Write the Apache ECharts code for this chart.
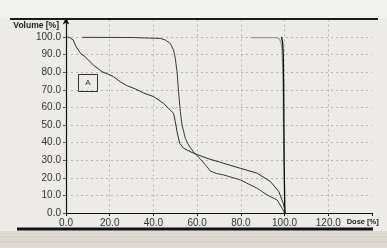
<!DOCTYPE html>
<html><head><meta charset="utf-8">
<script src="https://cdn.jsdelivr.net/npm/echarts@6/dist/echarts.min.js"></script>
<style>html,body{margin:0;padding:0;background:#ecebe8;}#c{width:387px;height:248px;}</style>
</head><body><div id="c"></div>
<script>
// Tick settings
const xTicks = [0, 20, 40, 60, 80, 100, 120];
const yTicks = [0, 10, 20, 30, 40, 50, 60, 70, 80, 90, 100];
// Curve A (gradual decline) [dose %, volume %]
const curveA = [[0.5,100],[1.5,99.8],[3.3,98.3],[4.6,94.5],[6.7,90.7],[8.7,88.8],[12.5,84.1],[16.4,80.3],[19.4,78.8],[21.7,77.5],[24.8,74.6],[27.8,72.4],[31.7,70.5],[35.5,68.2],[40.1,66.1],[44.6,62.3],[47.7,58.5],[49.2,56.6],[50,51.9],[50.8,46.2],[52,39.6],[53.8,36.8],[56.9,34.8],[60,33.2],[64.5,31.1],[72.2,28.2],[79.8,25.4],[87.5,22.6],[93.6,17.8],[97.4,12.1],[99.4,5.5],[100.5,0]];
// Curve B (steep shoulder)
const curveB = [[7.5,99.8],[30,99.7],[43.1,99.2],[45.4,98.3],[47.7,96.4],[49.2,92.6],[50,87.9],[50.8,80.3],[51.5,68.9],[52.3,57.6],[53.1,50],[54.6,42.4],[56.1,38.6],[58.4,34.6],[61.5,30.6],[64,27],[66.1,23.8],[69,22.4],[72.2,21.6],[79.8,18.8],[87.5,14],[92.1,10.2],[96.6,7.4],[98.9,2.7],[100,0]];
// Curve C (gray, near 100% dose)
const curveC = [[84.5,99.7],[96,99.7],[97.5,99],[98.3,97],[98.8,93],[99.2,80],[99.6,40],[100.2,0]];
// Curve D (black, near 100% dose)
const curveD = [[98.6,100],[99.1,97],[99.4,90],[99.6,70],[99.8,30],[100.1,0]];

const chart = echarts.init(document.getElementById('c'));
const font = '"Liberation Sans", Arial, sans-serif';
const lineSeries = (data, color, width) => ({
  type: 'line', data, showSymbol: false, symbol: 'none', smooth: false,
  lineStyle: { color, width }, animation: false, z: 3
});
chart.setOption({
  backgroundColor: '#ecebe8',
  animation: false,
  grid: { left: 66, right: 15, top: 19.4, bottom: 35, containLabel: false },
  xAxis: {
    type: 'value', min: 0, max: 140, interval: 20,
    name: 'Dose [%]', nameLocation: 'end', nameGap: 0,
    nameTextStyle: { fontFamily: font, fontSize: 7.5, fontWeight: 'bold', color: '#222', align: 'right', verticalAlign: 'top', padding: [5, 0, 0, 0] },
    axisLine: { show: true, lineStyle: { color: '#111', width: 1.2 } },
    axisTick: { show: true, length: 3, inside: false, lineStyle: { color: '#111' } },
    axisLabel: { fontFamily: font, fontSize: 10, color: '#333', margin: 5,
      formatter: v => xTicks.includes(v) ? v.toFixed(1) : '' },
    splitLine: { show: true, showMinLine: false, showMaxLine: false, lineStyle: { color: '#b4b4b2', type: [2, 3], width: 1 } }
  },
  yAxis: {
    type: 'value', min: 0, max: 110, interval: 10,
    name: 'Volume [%]', nameLocation: 'end', nameGap: -6,
    nameTextStyle: { fontFamily: font, fontSize: 8.5, fontWeight: 'bold', color: '#222', align: 'right', verticalAlign: 'middle', padding: [0, 7, 0, 0] },
    axisLine: { show: true, symbol: ['none', 'arrow'], symbolSize: [5, 7], symbolOffset: [0, 2], lineStyle: { color: '#111', width: 1.2 } },
    axisTick: { show: true, length: 3, lineStyle: { color: '#555' } },
    axisLabel: { fontFamily: font, fontSize: 10, color: '#333', margin: 5,
      formatter: v => yTicks.includes(v) ? v.toFixed(1) : '' },
    splitLine: { show: true, showMinLine: false, showMaxLine: false, lineStyle: { color: '#b4b4b2', type: [2, 3], width: 1 } }
  },
  graphic: [
    { type: 'rect', shape: { x: 0, y: 0, width: 387, height: 18 }, style: { fill: '#f1f1ef' }, z: -10 },
    { type: 'line', shape: { x1: 10, y1: 19, x2: 378, y2: 19 }, style: { stroke: '#1a1a1a', lineWidth: 1.8 }, z: 10 },
    { type: 'rect', shape: { x: 0, y: 231, width: 387, height: 17 }, style: { fill: '#dedad3' }, z: -10 },
    { type: 'line', shape: { x1: 0, y1: 237, x2: 387, y2: 237 }, style: { stroke: '#cfcac2', lineWidth: 1 }, z: -9 },
    { type: 'line', shape: { x1: 0, y1: 242, x2: 387, y2: 242 }, style: { stroke: '#c9c4bb', lineWidth: 1 }, z: -9 },
    { type: 'line', shape: { x1: 17, y1: 229, x2: 373, y2: 229 }, style: { stroke: '#111', lineWidth: 3 }, z: 10 },
    { type: 'rect', shape: { x: 78.5, y: 74.5, width: 19, height: 17 }, style: { fill: 'none', stroke: '#333', lineWidth: 1 }, z: 10 },
    { type: 'text', x: 88, y: 83, style: { text: 'A', fontFamily: font, fontSize: 8, fill: '#333', align: 'center', verticalAlign: 'middle' }, z: 10 }
  ],
  series: [
    lineSeries(curveA, '#2a2a2a', 1),
    lineSeries(curveB, '#3a3a3a', 1),
    lineSeries(curveC, '#9a9a9a', 1.2),
    lineSeries(curveD, '#111', 1.3)
  ]
});
</script></body></html>
